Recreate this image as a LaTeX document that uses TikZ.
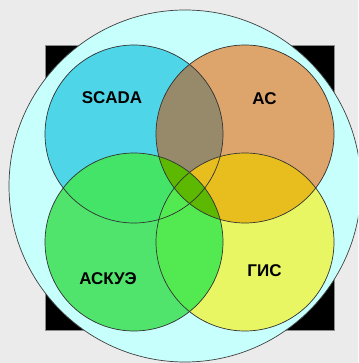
\documentclass[tikz,border=0pt]{standalone}
\usepackage{fontspec}
\setmainfont{Liberation Sans}
\definecolor{pagebg}{HTML}{EBEBEB}
\definecolor{ringfill}{HTML}{C6FFFC}
\definecolor{scadacol}{HTML}{4ED6E8}
\definecolor{ascol}{HTML}{DDA46C}
\definecolor{askuecol}{HTML}{50E46C}
\definecolor{giscol}{HTML}{E8F664}
\definecolor{scadaas}{HTML}{968A6A}
\definecolor{asgis}{HTML}{E8BE1E}
\definecolor{scadaaskue}{HTML}{44E468}
\definecolor{askuegis}{HTML}{52EA50}
\definecolor{asaskue}{HTML}{5CB800}
\tikzset{
  rim/.style={draw=black!80, line width=0.7pt},
  label/.style={font=\bfseries\fontsize{17}{20}\selectfont, inner sep=0pt, text=black}
}
\newcommand{\R}{89pt}
\begin{document}
\begin{tikzpicture}[x=1pt, y=-1pt]
  \useasboundingbox (0,0) rectangle (358,363);
  \clip (0,0) rectangle (358,363);
  \fill[pagebg] (0,0) rectangle (358,363);

  % centres of the four sets and of the outer ring
  \coordinate (ring) at (185,186);
  \coordinate (cS) at (134,134);
  \coordinate (cA) at (245,134);
  \coordinate (cK) at (134,242);
  \coordinate (cG) at (245,242);

  % black backing square and outer ring
  \filldraw[fill=black, draw=black!45, line width=0.6pt] (45,45) rectangle (334,330);
  \filldraw[fill=ringfill, draw=black!75, line width=0.7pt] (ring) circle[radius=176pt];

  % single sets
  \fill[scadacol] (cS) circle[radius=\R];
  \fill[ascol]    (cA) circle[radius=\R];
  \fill[askuecol] (cK) circle[radius=\R];
  \fill[giscol]   (cG) circle[radius=\R];

  % overlaps
  \begin{scope}\clip (cS) circle[radius=\R]; \fill[scadaas] (cA) circle[radius=\R];\end{scope}
  \begin{scope}\clip (cA) circle[radius=\R]; \fill[asgis] (cG) circle[radius=\R];\end{scope}
  \begin{scope}\clip (cK) circle[radius=\R]; \fill[scadaaskue] (cS) circle[radius=\R];\end{scope}
  \begin{scope}\clip (cK) circle[radius=\R]; \fill[askuegis] (cG) circle[radius=\R];\end{scope}
  \begin{scope}\clip (cK) circle[radius=\R]; \fill[asaskue] (cA) circle[radius=\R];\end{scope}

  % outlines
  \draw[rim] (cS) circle[radius=\R];
  \draw[rim] (cA) circle[radius=\R];
  \draw[rim] (cK) circle[radius=\R];
  \draw[rim] (cG) circle[radius=\R];

  % set names
  \node[label] (tS) at (112,98) {SCADA};
  \node[label] (tA) at (264.5,98.5) {АС};
  \node[label] (tK) at (108,278.5) {АСКУЭ};
  \node[label] (tG) at (264.5,271) {ГИС};
\end{tikzpicture}
\end{document}
